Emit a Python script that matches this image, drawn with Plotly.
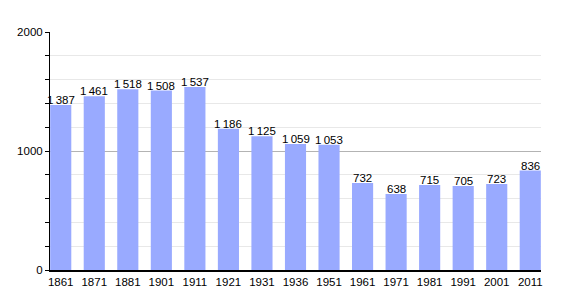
import plotly.graph_objects as go

years = ["1861", "1871", "1881", "1901", "1911", "1921", "1931", "1936", "1951",
         "1961", "1971", "1981", "1991", "2001", "2011"]
population = [1387, 1461, 1518, 1508, 1537, 1186, 1125, 1059, 1053,
              732, 638, 715, 705, 723, 836]
y_ticks = [0, 1000, 2000]

labels = [f"{v:,}".replace(",", "\u2009") for v in population]
FONT = "Liberation Sans, Arial, sans-serif"

fig = go.Figure()
fig.add_trace(go.Bar(x=years, y=population, marker=dict(color="#99aaff", line=dict(width=0)),
                     width=0.63, hoverinfo="skip"))

for i, (v, lab) in enumerate(zip(population, labels)):
    fig.add_annotation(x=i, y=v, xref="x", yref="y", text=lab, showarrow=False,
                       yanchor="bottom", yshift=-3,
                       font=dict(size=11.5, color="black", family=FONT))

fig.update_layout(
    width=570, height=300,
    margin=dict(l=50, r=29, t=32, b=30),
    paper_bgcolor="white", plot_bgcolor="white",
    showlegend=False,
    font=dict(family=FONT, size=11, color="black"),
)
fig.update_xaxes(type="category", range=[-0.32, 14.32], showline=True, linecolor="black",
                 linewidth=1.5, ticks="", showgrid=False, tickfont=dict(size=11.5))
fig.update_yaxes(range=[0, 2000], tickvals=y_ticks, showline=True, linecolor="black",
                 linewidth=1, ticks="outside", ticklen=4, tickcolor="black",
                 showgrid=True, gridcolor="#b3b3b3", gridwidth=1, zeroline=False,
                 tickfont=dict(size=11.5),
                 minor=dict(dtick=200, tick0=0, showgrid=True, gridcolor="#e8e8e8",
                            ticks="outside", ticklen=4, tickcolor="black"))

fig.write_html("out.html")
